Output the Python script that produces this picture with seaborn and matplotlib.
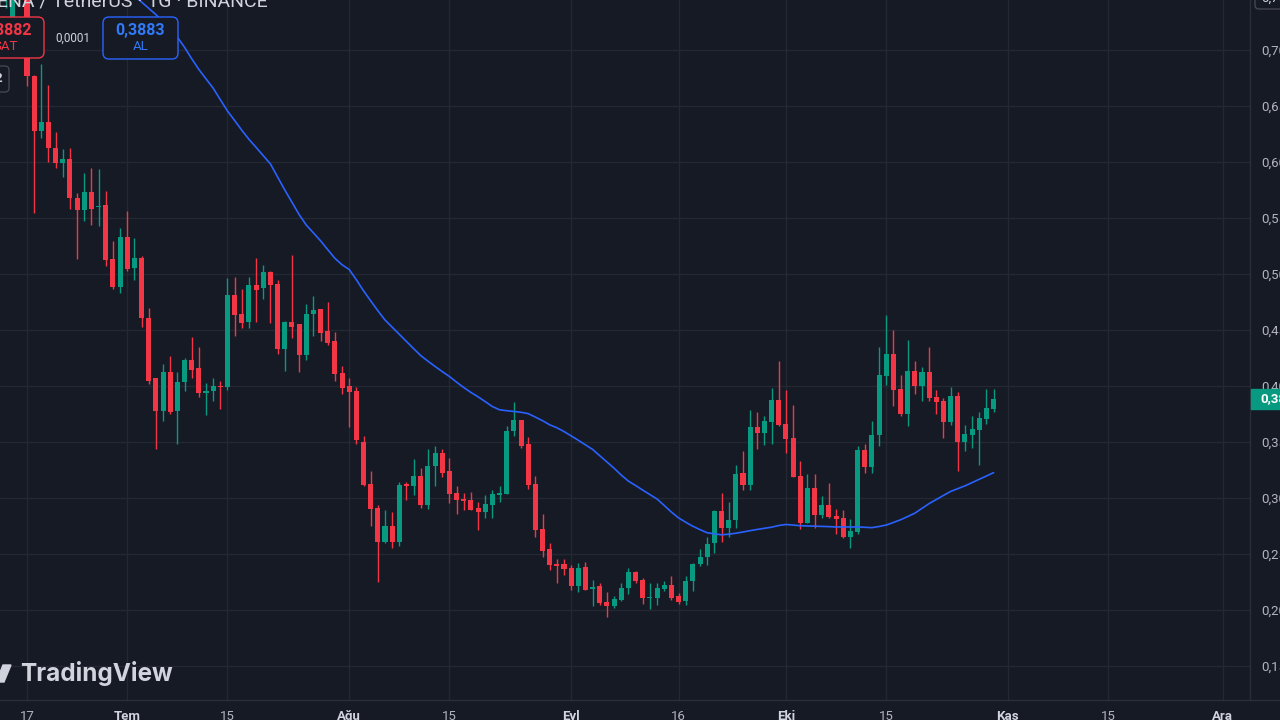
import numpy as np
import pandas as pd
import matplotlib
matplotlib.use("Agg")
import matplotlib.pyplot as plt
import matplotlib.transforms as mtransforms
from matplotlib.patches import FancyBboxPatch, Rectangle, Polygon
from matplotlib.lines import Line2D
import seaborn as sns

# ---------------- data ----------------
ref_date = pd.Timestamp("2024-06-17")
first_candle = "2024-06-14"

open_ = [0.755, 0.725, 0.765, 0.770, 0.676, 0.627, 0.635, 0.612, 0.599, 0.602, 0.567, 0.557, 0.573,
         0.5595, 0.561, 0.513, 0.488, 0.533, 0.505, 0.514, 0.460, 0.407, 0.377, 0.412, 0.377, 0.403,
         0.423, 0.416, 0.393, 0.395, 0.3995, 0.399, 0.481, 0.464, 0.457, 0.490, 0.487, 0.501, 0.491,
         0.433, 0.457, 0.455, 0.4275, 0.464, 0.468, 0.449, 0.440, 0.411, 0.3996, 0.395, 0.350, 0.312,
         0.291, 0.260, 0.275, 0.2605, 0.312, 0.3105, 0.319, 0.293, 0.328, 0.340, 0.324, 0.304, 0.299,
         0.298, 0.291, 0.287, 0.293, 0.3025, 0.303, 0.359, 0.3695, 0.348, 0.312, 0.272, 0.254, 0.241,
         0.2406, 0.237, 0.221, 0.238, 0.2186, 0.221, 0.207, 0.2034, 0.2087, 0.2195, 0.2337, 0.2266,
         0.2105, 0.2105, 0.2186, 0.2221, 0.2123, 0.2078, 0.2257, 0.2409, 0.2471, 0.2596, 0.2879, 0.273,
         0.2802, 0.3219, 0.3112, 0.363, 0.3576, 0.3674, 0.3871, 0.3656, 0.3531, 0.3192, 0.2772, 0.3085,
         0.2846, 0.2933, 0.2835, 0.2817, 0.265, 0.2695, 0.3424, 0.3272, 0.3558, 0.4085, 0.4281, 0.3969,
         0.3746, 0.4129, 0.3996, 0.412, 0.3897, 0.3862, 0.3674, 0.3906, 0.3496, 0.3558, 0.3603, 0.3701,
         0.379]
high = [0.780, 0.775, 0.790, 0.785, 0.677, 0.687, 0.668, 0.626, 0.611, 0.612, 0.572, 0.590, 0.594,
        0.593, 0.574, 0.529, 0.541, 0.556, 0.532, 0.516, 0.469, 0.407, 0.419, 0.426, 0.412, 0.425,
        0.443, 0.434, 0.4025, 0.407, 0.404, 0.496, 0.497, 0.486, 0.497, 0.514, 0.508, 0.5025, 0.494,
        0.458, 0.5165, 0.455, 0.473, 0.480, 0.468, 0.475, 0.448, 0.417, 0.407, 0.399, 0.355, 0.324,
        0.293, 0.289, 0.287, 0.314, 0.314, 0.334, 0.326, 0.343, 0.346, 0.343, 0.335, 0.310, 0.304,
        0.305, 0.296, 0.302, 0.307, 0.310, 0.364, 0.385, 0.3695, 0.354, 0.319, 0.2855, 0.259, 0.245,
        0.245, 0.240, 0.2415, 0.242, 0.2266, 0.224, 0.216, 0.2123, 0.2239, 0.2373, 0.2346, 0.2281,
        0.2234, 0.2239, 0.2257, 0.2301, 0.215, 0.2301, 0.2418, 0.2543, 0.2651, 0.2888, 0.304, 0.296,
        0.329, 0.3415, 0.3781, 0.3763, 0.3728, 0.3978, 0.4219, 0.396, 0.3826, 0.3326, 0.321, 0.321,
        0.3013, 0.3129, 0.2897, 0.2888, 0.2808, 0.346, 0.3478, 0.3683, 0.4344, 0.4629, 0.4496, 0.4094,
        0.4406, 0.4219, 0.4165, 0.4344, 0.396, 0.3888, 0.3987, 0.3942, 0.3647, 0.3728, 0.3763, 0.3969,
        0.3969]
low = [0.737, 0.720, 0.748, 0.667, 0.554, 0.621, 0.600, 0.594, 0.586, 0.558, 0.513, 0.547, 0.543,
       0.542, 0.507, 0.486, 0.483, 0.502, 0.494, 0.452, 0.401, 0.343, 0.368, 0.375, 0.348, 0.395,
       0.407, 0.390, 0.374, 0.386, 0.379, 0.396, 0.4445, 0.451, 0.451, 0.457, 0.477, 0.456, 0.428,
       0.413, 0.442, 0.412, 0.423, 0.444, 0.440, 0.436, 0.404, 0.392, 0.363, 0.348, 0.310, 0.275,
       0.225, 0.259, 0.255, 0.257, 0.298, 0.302, 0.291, 0.290, 0.3105, 0.318, 0.295, 0.2855, 0.289,
       0.289, 0.271, 0.282, 0.282, 0.296, 0.303, 0.355, 0.3445, 0.308, 0.265, 0.247, 0.235, 0.224,
       0.231, 0.217, 0.216, 0.217, 0.2034, 0.204, 0.193, 0.2016, 0.2078, 0.2141, 0.2239, 0.2052,
       0.2007, 0.2043, 0.2168, 0.2087, 0.2052, 0.2043, 0.2168, 0.2391, 0.240, 0.2507, 0.2605, 0.265,
       0.273, 0.3067, 0.3067, 0.3433, 0.3469, 0.3478, 0.3638, 0.3397, 0.3183, 0.2721, 0.2772, 0.273,
       0.282, 0.282, 0.2677, 0.2641, 0.2552, 0.2677, 0.3219, 0.3219, 0.346, 0.4004, 0.3817, 0.3728,
       0.3638, 0.3924, 0.3862, 0.3862, 0.3746, 0.3531, 0.3647, 0.3237, 0.3415, 0.3442, 0.329, 0.3656,
       0.3763]
close = [0.765, 0.765, 0.775, 0.676, 0.627, 0.635, 0.612, 0.599, 0.602, 0.567, 0.557, 0.573, 0.558,
         0.560, 0.512, 0.488, 0.533, 0.504, 0.514, 0.460, 0.404, 0.377, 0.412, 0.376, 0.403, 0.423,
         0.414, 0.393, 0.395, 0.400, 0.399, 0.481, 0.463, 0.456, 0.490, 0.485, 0.501, 0.490, 0.433,
         0.457, 0.452, 0.427, 0.464, 0.467, 0.447, 0.438, 0.410, 0.398, 0.3945, 0.351, 0.311, 0.290,
         0.260, 0.275, 0.260, 0.311, 0.3105, 0.319, 0.293, 0.328, 0.340, 0.322, 0.303, 0.298, 0.297,
         0.289, 0.287, 0.294, 0.303, 0.304, 0.359, 0.3695, 0.346, 0.311, 0.271, 0.2525, 0.240, 0.239,
         0.2364, 0.221, 0.237, 0.217, 0.2203, 0.206, 0.2034, 0.2096, 0.2195, 0.2337, 0.2257, 0.2105,
         0.2114, 0.2195, 0.2221, 0.2105, 0.207, 0.2257, 0.2409, 0.2471, 0.2588, 0.2879, 0.273, 0.2799,
         0.321, 0.3112, 0.363, 0.3576, 0.3683, 0.3871, 0.3647, 0.3522, 0.3183, 0.2772, 0.3085, 0.2846,
         0.2933, 0.2829, 0.2811, 0.265, 0.2701, 0.3424, 0.3272, 0.3558, 0.4094, 0.4281, 0.396, 0.3746,
         0.4129, 0.3996, 0.412, 0.3888, 0.3853, 0.3674, 0.3906, 0.3496, 0.3567, 0.3612, 0.371, 0.3799,
         0.3883]

ma_first_date = "2024-06-30"
ma_values = [0.7594, 0.7537, 0.748, 0.7424, 0.7368, 0.7312, 0.7247, 0.7179, 0.711, 0.702, 0.6918,
             0.6822, 0.6738, 0.6655, 0.6552, 0.6451, 0.6366, 0.6279, 0.6198, 0.6126, 0.6052, 0.5978,
             0.5862, 0.5746, 0.5637, 0.5527, 0.5433, 0.5363, 0.5292, 0.5213, 0.5136, 0.5078, 0.5036,
             0.4944, 0.4846, 0.4756, 0.4668, 0.4585, 0.4521, 0.4457, 0.4393, 0.4329, 0.4267, 0.4217,
             0.417, 0.4124, 0.408, 0.403, 0.3982, 0.3938, 0.3899, 0.3856, 0.3812, 0.3783, 0.3775,
             0.3768, 0.3761, 0.3749, 0.3718, 0.3686, 0.3649, 0.3623, 0.3589, 0.355, 0.3511, 0.347,
             0.3429, 0.3373, 0.3317, 0.3261, 0.32, 0.3146, 0.3107, 0.3066, 0.3026, 0.2986, 0.2929,
             0.287, 0.2818, 0.2779, 0.2743, 0.2713, 0.2685, 0.2676, 0.2667, 0.2672, 0.2681, 0.2692,
             0.2704, 0.2715, 0.2725, 0.2735, 0.275, 0.2759, 0.2754, 0.2748, 0.2746, 0.2744, 0.2742,
             0.274, 0.2737, 0.2737, 0.2737, 0.2737, 0.2734, 0.2731, 0.2741, 0.2754, 0.2777, 0.2801,
             0.283, 0.286, 0.2903, 0.2946, 0.2982, 0.3019, 0.3054, 0.3079, 0.3104, 0.3133, 0.3163,
             0.3192, 0.3222]

tick_dates = ["2024-06-17", "2024-07-01", "2024-07-15", "2024-08-01", "2024-08-15", "2024-09-01",
              "2024-09-16", "2024-10-01", "2024-10-15", "2024-11-01", "2024-11-15", "2024-12-01"]
tick_labels = ["17", "Tem", "15", "Ağu", "15", "Eyl", "16", "Eki", "15", "Kas", "15", "Ara"]
month_labels = {"Tem", "Ağu", "Eyl", "Eki", "Kas", "Ara"}
price_ticks = [0.15, 0.20, 0.25, 0.30, 0.35, 0.40, 0.45, 0.50, 0.55, 0.60, 0.65, 0.70]
top_price_label = "0,7500"

title_text = "ENA / TetherUS · 1G · BINANCE"
sell_price, buy_price, spread = "0,3882", "0,3883", "0,0001"
last_price = close[-1]

# ---------------- styling ----------------
BG = "#161a25"
GRID = "#242833"
UP = "#089981"
DOWN = "#f23645"
MA_COL = "#2962ff"
TXT = "#b2b5be"

sns.set_theme(style="dark")
plt.rcParams["font.family"] = ["Roboto", "DejaVu Sans"]

W, H = 1280, 720
fig = plt.figure(figsize=(W / 100, H / 100), dpi=100)
fig.patch.set_facecolor(BG)
ax = fig.add_axes([0, 20 / H, 1250 / W, 700 / H])
ax.set_facecolor(BG)

dates = pd.date_range(first_candle, periods=len(open_))
xs = np.asarray((dates - ref_date).days, dtype=float)
o = np.array(open_); h = np.array(high); l = np.array(low); c = np.array(close)
up = c >= o
cols = np.where(up, UP, DOWN)
body_bottom = np.minimum(o, c)
body_h = np.maximum(np.abs(c - o), 0.0009)

ax.vlines(xs, l, h, colors=cols, linewidth=1.0, zorder=3)
ax.bar(xs, body_h, bottom=body_bottom, width=0.70, color=cols, linewidth=0, zorder=4)

ma_dates = pd.date_range(ma_first_date, periods=len(ma_values))
ma_df = pd.DataFrame({"x": np.asarray((ma_dates - ref_date).days, dtype=float), "ma": ma_values})
sns.lineplot(data=ma_df, x="x", y="ma", ax=ax, color=MA_COL, linewidth=1.2, zorder=5)

# axis ranges
ax.set_xlim(-27 / 7.16, (1250 - 27) / 7.16)
ax.set_ylim(0.40 - 314.5 / 1120, 0.40 + 385.5 / 1120)

tick_x = [(pd.Timestamp(d) - ref_date).days for d in tick_dates]
ax.set_xticks(tick_x)
ax.set_xticklabels(tick_labels)
for t in ax.get_xticklabels():
    if t.get_text() in month_labels:
        t.set_fontweight("bold")
        t.set_color("#d1d4dc")
    else:
        t.set_color(TXT)
ax.tick_params(axis="x", length=0, pad=7, labelsize=9.5)

ax.set_yticks(price_ticks)
ax.set_yticklabels([f"{v:.4f}".replace(".", ",") for v in price_ticks])
ax.yaxis.tick_right()
ax.tick_params(axis="y", length=0, pad=8, labelsize=9.5, labelcolor=TXT)
ax.set_xlabel(""); ax.set_ylabel("")

ax.grid(True, color=GRID, linewidth=1)
ax.set_axisbelow(True)
for s in ["top", "left", "bottom"]:
    ax.spines[s].set_visible(False)
ax.spines["right"].set_color("#2a2e39")
ax.spines["right"].set_linewidth(1)
fig.add_artist(Line2D([0, 1], [20 / H, 20 / H], transform=fig.transFigure, color="#2a2e39", lw=1))

ID = mtransforms.IdentityTransform()


def T(x, y, s, **kw):
    fig.text(x, H - y, s, transform=ID, **kw)


def box(x0, y0, x1, y1, ec, r=6):
    p = FancyBboxPatch((x0, H - y1), x1 - x0, y1 - y0, boxstyle=f"round,pad=0,rounding_size={r}",
                       transform=ID, ec=ec, fc=BG, lw=1, zorder=6)
    fig.add_artist(p)


# header
T(-3, 6, title_text, fontsize=14, color="#d1d4dc", va="baseline", ha="left")

# sell / buy boxes
box(-30, 17, 44, 58, DOWN)
T(32, 31, sell_price, fontsize=11.5, color=DOWN, fontweight="bold", ha="right", va="center", zorder=7)
T(18, 47, "SAT", fontsize=9.5, color=DOWN, ha="right", va="center", zorder=7)
T(55, 38, spread, fontsize=8.5, color="#d1d4dc", ha="left", va="center", zorder=7)
box(103, 17, 178, 59, MA_COL)
T(140.5, 31, buy_price, fontsize=11.5, color="#3179f5", fontweight="bold", ha="center", va="center", zorder=7)
T(140.5, 47, "AL", fontsize=9.5, color="#3179f5", ha="center", va="center", zorder=7)
box(-20, 66, 9, 92, "#434651", r=4)
T(-2, 79, "2", fontsize=9.5, color="#d1d4dc", ha="center", va="center", fontweight="bold", zorder=7)

# top right partial label box (0,75 level, just above the visible area)
box(1255, -14, 1300, 9, "#434651", r=4)
T(1261, -2, top_price_label, fontsize=9.5, color="#d1d4dc", ha="left", va="center", zorder=7)

# last price tag
bt = mtransforms.blended_transform_factory(ID, ax.transData)
fig.add_artist(Rectangle((1251, last_price - 10 / 1120), 29, 20 / 1120, transform=bt, color=UP, zorder=6))
fig.text(1260, last_price, f"{last_price:.4f}".replace(".", ","), transform=bt, fontsize=9.5,
         color="white", fontweight="bold", va="center", ha="left", zorder=7)

# watermark logo
fig.add_artist(Polygon([(3, H - 665), (11, H - 665), (4, H - 682), (-4, H - 682)], closed=True,
                       transform=ID, color="#d1d4dc", zorder=6))
T(20, 674, "TradingView", fontsize=17.5, color="#d1d4dc", fontweight="bold",
  family=["Inter", "DejaVu Sans"], ha="left", va="center", zorder=7)

fig.savefig("out.png", dpi=100, facecolor=BG)
